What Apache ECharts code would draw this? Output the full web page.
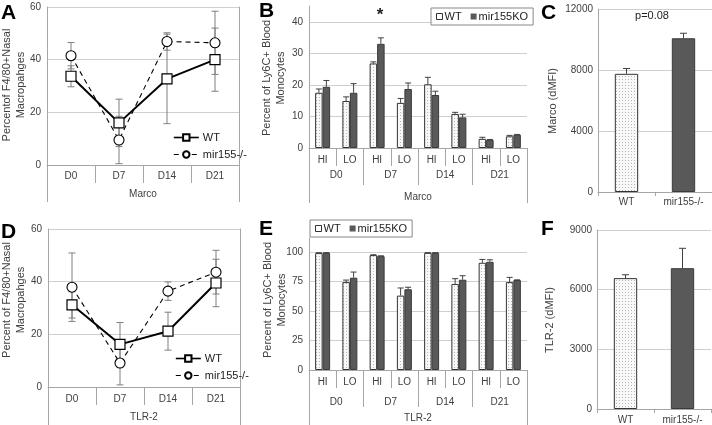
<!DOCTYPE html>
<html>
<head>
<meta charset="utf-8">
<script src="https://cdn.jsdelivr.net/npm/echarts@6/dist/echarts.min.js"></script>
<style>html,body{margin:0;padding:0;background:#fff}#c{width:712px;height:425px}</style>
</head>
<body>
<div id="c"></div>
<script>
// ---------- data ----------
const days = ['D0', 'D7', 'D14', 'D21'];
const subCats = ['HI', 'LO', 'HI', 'LO', 'HI', 'LO', 'HI', 'LO'];
const groupCats = ['WT', 'mir155-/-'];

// Panel A (Marco, macrophages)
const aWT = [33.7, 16.0, 32.7, 40.0];
const aWTErr = [4.0, 9.0, 17.0, 12.0];
const aKO = [41.5, 9.5, 46.9, 46.4];
const aKOErr = [5.0, 9.0, 3.3, 12.0];

// Panel B (Marco, Ly6C+ monocytes)
const bWT = [17.5, 14.9, 26.8, 14.3, 20.2, 10.8, 2.9, 3.7];
const bWTErr = [1.2, 1.3, 0.5, 1.4, 2.2, 0.5, 0.5, 0.3];
const bKO = [19.4, 17.5, 33.0, 18.7, 16.8, 9.7, 2.6, 4.2];
const bKOErr = [2.0, 2.9, 1.9, 1.9, 1.2, 1.0, 0.1, 0.1];

// Panel C (Marco dMFI)
const cVals = [7750, 10080];
const cErr = [350, 330];

// Panel D (TLR-2, macrophages)
const dWT = [31.2, 16.2, 21.2, 39.5];
const dWTErr = [5.0, 8.3, 7.2, 9.0];
const dKO = [37.9, 9.1, 36.4, 43.6];
const dKOErr = [13.0, 8.3, 3.5, 8.3];

// Panel E (TLR-2, Ly6C+ monocytes)
const eWT = [99.2, 74.6, 97.5, 63.1, 99.4, 73.0, 91.0, 74.6];
const eWTErr = [0.3, 1.7, 0.3, 6.5, 0.2, 4.5, 2.8, 4.0];
const eKO = [99.4, 78.3, 96.6, 68.5, 99.4, 76.6, 91.8, 76.3];
const eKOErr = [0.2, 4.8, 0.3, 1.7, 0.2, 3.4, 1.7, 0.2];

// Panel F (TLR-2 dMFI)
const fVals = [6580, 7080];
const fErr = [170, 1000];

// ---------- styles ----------
const FONT = '"Liberation Sans", Arial, sans-serif';
const LABEL = '#404040';
const AXIS = '#a6a6a6';
const GRIDC = '#cfcfcf';
const DARK = '#595959';

function dotPattern() {
  const c = document.createElement('canvas');
  c.width = 3; c.height = 3;
  const g = c.getContext('2d');
  g.fillStyle = '#f8f8f8'; g.fillRect(0, 0, 3, 3);
  g.fillStyle = '#b5b5b5'; g.fillRect(1, 1, 1, 1);
  return c;
}
const WTFILL = { image: dotPattern(), repeat: 'repeat' };

function toErrData(vals, errs) { return vals.map((v, i) => [i, v, errs[i]]); }

function errSeries(xi, yi, vals, errs, opt) {
  return {
    type: 'custom', xAxisIndex: xi, yAxisIndex: yi, z: opt.z, silent: true,
    encode: { x: 0, y: 1 },
    data: toErrData(vals, errs),
    renderItem: function (params, api) {
      const i = api.value(0), v = api.value(1), e = api.value(2);
      const catW = api.size([1, 0])[0];
      const top = api.coord([i, v + e]);
      const bot = api.coord([i, opt.both ? v - e : v]);
      const x = top[0] + opt.offset * catW;
      const st = { stroke: opt.color, lineWidth: 1 };
      const ch = [
        { type: 'line', shape: { x1: x, y1: top[1], x2: x, y2: bot[1] }, style: st },
        { type: 'line', shape: { x1: x - opt.cap, y1: top[1], x2: x + opt.cap, y2: top[1] }, style: st }
      ];
      if (opt.both) ch.push({ type: 'line', shape: { x1: x - opt.cap, y1: bot[1], x2: x + opt.cap, y2: bot[1] }, style: st });
      return { type: 'group', children: ch };
    }
  };
}

function valAxis(grid, min, max, interval, extra) {
  return Object.assign({
    type: 'value', gridIndex: grid, min: min, max: max, interval: interval,
    axisLine: { show: true, lineStyle: { color: AXIS } },
    axisTick: { show: false },
    axisLabel: { color: LABEL, fontSize: 10, fontFamily: FONT, margin: 6, showMaxLabel: true,
      formatter: v => String(v) },
    splitLine: { show: true, lineStyle: { color: GRIDC } }
  }, extra || {});
}
function catAxis(grid, data, tickLen, margin, extra) {
  return Object.assign({
    type: 'category', gridIndex: grid, data: data, position: 'bottom', boundaryGap: true,
    axisLine: { show: true, onZero: false, lineStyle: { color: AXIS } },
    axisTick: { show: true, length: tickLen, interval: 0, alignWithLabel: false, lineStyle: { color: AXIS } },
    axisLabel: { color: LABEL, fontSize: 10, fontFamily: FONT, margin: margin, interval: 0 },
    splitLine: { show: false }
  }, extra || {});
}
function rightLine(grid, max) {
  return { type: 'value', gridIndex: grid, position: 'right', min: 0, max: max,
    axisLine: { show: true, onZero: false, lineStyle: { color: AXIS } },
    axisTick: { show: false }, axisLabel: { show: false }, splitLine: { show: false } };
}

const lineWT = (xi, yi, data) => ({
  name: 'WT', type: 'line', xAxisIndex: xi, yAxisIndex: yi, data: data, z: 3,
  symbol: 'rect', symbolSize: 10,
  lineStyle: { color: '#000', width: 2 },
  itemStyle: { color: '#fff', borderColor: '#000', borderWidth: 1.2 }
});
const lineKO = (xi, yi, data) => ({
  name: 'mir155-/-', type: 'line', xAxisIndex: xi, yAxisIndex: yi, data: data, z: 3,
  symbol: 'circle', symbolSize: 10,
  lineStyle: { color: '#000', width: 1.1, type: [5, 4] },
  itemStyle: { color: '#fff', borderColor: '#000', borderWidth: 1.1 }
});
const barWT = (xi, yi, data) => ({
  name: 'WT', type: 'bar', xAxisIndex: xi, yAxisIndex: yi, data: data,
  barGap: '0%', barCategoryGap: '45%',
  itemStyle: { color: WTFILL, borderColor: '#333', borderWidth: 1 }
});
const barKO = (xi, yi, data) => ({
  name: 'mir155KO', type: 'bar', xAxisIndex: xi, yAxisIndex: yi, data: data,
  barGap: '0%', barCategoryGap: '45%',
  itemStyle: { color: DARK, borderColor: '#3a3a3a', borderWidth: 1 }
});
const barPair = (xi, yi, vals) => ({
  name: 'dMFI', type: 'bar', xAxisIndex: xi, yAxisIndex: yi, barWidth: '41%',
  data: vals.map((v, i) => ({ value: v, itemStyle: i === 0
    ? { color: WTFILL, borderColor: '#333', borderWidth: 1 }
    : { color: DARK, borderColor: '#3a3a3a', borderWidth: 1 } }))
});

const lineLegend = (left, top) => ({
  left: left, top: top, orient: 'vertical', itemGap: 6, itemWidth: 25, itemHeight: 8,
  selectedMode: false,
  data: [
    { name: 'WT', lineStyle: { width: 1.6 } },
    { name: 'mir155-/-', lineStyle: { width: 1 } }
  ],
  textStyle: { color: '#222', fontSize: 11, fontFamily: FONT, padding: [0, 0, 0, -1] }
});
const barLegend = (left, top) => ({
  left: left, top: top, orient: 'horizontal', itemGap: 9, itemWidth: 6, itemHeight: 6,
  padding: [3, 5, 3, 5], borderColor: '#888', borderWidth: 1, backgroundColor: '#fff',
  selectedMode: false,
  data: [
    { name: 'WT', icon: 'rect', itemStyle: { color: '#fff', borderColor: '#333', borderWidth: 1 } },
    { name: 'mir155KO', icon: 'rect', itemStyle: { color: DARK, borderColor: DARK, borderWidth: 0 } }
  ],
  textStyle: { color: '#222', fontSize: 11, fontFamily: FONT, padding: [0, 0, 0, -3] }
});

function vText(x, y, text) {
  return { type: 'text', x: x, y: y, rotation: Math.PI / 2, silent: true,
    style: { text: text, fill: LABEL, font: '11px ' + FONT, textAlign: 'center', textVerticalAlign: 'middle', lineHeight: 14 } };
}
function letter(x, y, t) {
  return { type: 'text', x: x, y: y, silent: true,
    style: { text: t, fill: '#000', font: 'bold 21px ' + FONT, textAlign: 'left', textVerticalAlign: 'top' } };
}

const option = {
  animation: false,
  grid: [
    { left: 47, top: 7, width: 192, height: 158 },    // A
    { left: 309, top: 6, width: 218, height: 142 },   // B
    { left: 598, top: 9, width: 114, height: 183 },   // C
    { left: 48, top: 229, width: 192, height: 158 },  // D
    { left: 309, top: 238, width: 218, height: 132 }, // E
    { left: 597, top: 230, width: 114, height: 180 }  // F
  ],
  xAxis: [
    catAxis(0, days, 18, 6),                                                   // 0 A days
    catAxis(0, ['Marco'], 37, 24, { axisLine: { show: false, onZero: false } }), // 1 A title
    catAxis(1, subCats, 18, 7),                                                // 2 B sub
    catAxis(1, days, 37, 22, { axisLine: { show: false, onZero: false } }),    // 3 B days
    catAxis(1, ['Marco'], 55, 44, { axisLine: { show: false, onZero: false } }), // 4 B title
    catAxis(2, groupCats, 4, 5),                                               // 5 C
    catAxis(3, days, 18, 7),                                                   // 6 D days
    catAxis(3, ['TLR-2'], 38, 25, { axisLine: { show: false, onZero: false } }), // 7 D title
    catAxis(4, subCats, 18, 7),                                                // 8 E sub
    catAxis(4, days, 37, 27, { axisLine: { show: false, onZero: false } }),    // 9 E days
    catAxis(4, ['TLR-2'], 56, 43, { axisLine: { show: false, onZero: false } }), // 10 E title
    catAxis(5, groupCats, 4, 6)                                                // 11 F
  ],
  yAxis: [
    valAxis(0, 0, 60, 20),                                                     // 0 A
    rightLine(0, 60),                                                          // 1 A right edge
    valAxis(1, 0, 45, 10, { splitLine: { show: true, showMaxLine: false, lineStyle: { color: GRIDC } },
      axisLabel: { color: LABEL, fontSize: 10, fontFamily: FONT, margin: 6, showMaxLabel: false } }), // 2 B
    valAxis(2, 0, 12000, 4000, { axisLabel: { color: LABEL, fontSize: 10, fontFamily: FONT, margin: 5,
      formatter: v => String(v) } }),                                          // 3 C
    valAxis(3, 0, 60, 20),                                                     // 4 D
    rightLine(3, 60),                                                          // 5 D right edge
    valAxis(4, 0, 112, 25, { splitLine: { show: true, showMaxLine: false, lineStyle: { color: GRIDC } },
      axisLabel: { color: LABEL, fontSize: 10, fontFamily: FONT, margin: 6, showMaxLabel: false } }), // 6 E
    valAxis(5, 0, 9000, 3000, { axisLabel: { color: LABEL, fontSize: 10, fontFamily: FONT, margin: 5,
      formatter: v => String(v) } })                                           // 7 F
  ],
  legend: [
    lineLegend(168, 127),
    barLegend(431, 8),
    lineLegend(170, 348),
    barLegend(310, 220)
  ],
  series: [
    // A
    lineWT(0, 0, aWT),
    lineKO(0, 0, aKO),
    errSeries(0, 0, aWT, aWTErr, { offset: 0, both: true, cap: 3.5, color: '#7f7f7f', z: 1 }),
    errSeries(0, 0, aKO, aKOErr, { offset: 0, both: true, cap: 3.5, color: '#7f7f7f', z: 1 }),
    // B
    barWT(2, 2, bWT),
    barKO(2, 2, bKO),
    errSeries(2, 2, bWT, bWTErr, { offset: -0.1375, both: false, cap: 3, color: '#404040', z: 4 }),
    errSeries(2, 2, bKO, bKOErr, { offset: 0.1375, both: false, cap: 3, color: '#404040', z: 4 }),
    // C
    barPair(5, 3, cVals),
    errSeries(5, 3, cVals, cErr, { offset: 0, both: false, cap: 3.5, color: '#404040', z: 4 }),
    // D
    lineWT(6, 4, dWT),
    lineKO(6, 4, dKO),
    errSeries(6, 4, dWT, dWTErr, { offset: 0, both: true, cap: 3.5, color: '#7f7f7f', z: 1 }),
    errSeries(6, 4, dKO, dKOErr, { offset: 0, both: true, cap: 3.5, color: '#7f7f7f', z: 1 }),
    // E
    barWT(8, 6, eWT),
    barKO(8, 6, eKO),
    errSeries(8, 6, eWT, eWTErr, { offset: -0.1375, both: false, cap: 3, color: '#404040', z: 4 }),
    errSeries(8, 6, eKO, eKOErr, { offset: 0.1375, both: false, cap: 3, color: '#404040', z: 4 }),
    // F
    barPair(11, 7, fVals),
    errSeries(11, 7, fVals, fErr, { offset: 0, both: false, cap: 3.5, color: '#404040', z: 4 })
  ],
  graphic: [
    letter(1, 3, 'A'), letter(259, 1, 'B'), letter(541, 3, 'C'),
    letter(1, 222, 'D'), letter(259, 219, 'E'), letter(541, 219, 'F'),
    vText(14, 85, 'Percentof F4/80+Nasal\nMacropahges'),
    vText(274, 78, 'Percent of Ly6C+ Blood\nMonocytes'),
    vText(553, 101, 'Marco (dMFI)'),
    vText(14, 300, 'Percent of F4/80+Nasal\nMacropahges'),
    vText(275, 300, 'Percent of Ly6C+ Blood\nMonocytes'),
    vText(550, 320, 'TLR-2 (dMFI)'),
    { type: 'text', x: 380, y: 15, silent: true,
      style: { text: '*', fill: '#222', font: 'bold 17px ' + FONT, textAlign: 'center', textVerticalAlign: 'middle' } },
    { type: 'text', x: 652, y: 16, silent: true,
      style: { text: 'p=0.08', fill: '#222', font: '11px ' + FONT, textAlign: 'center', textVerticalAlign: 'middle' } }
  ]
};

const chart = echarts.init(document.getElementById('c'), null, { renderer: 'canvas' });
chart.setOption(option);
</script>
</body>
</html>
